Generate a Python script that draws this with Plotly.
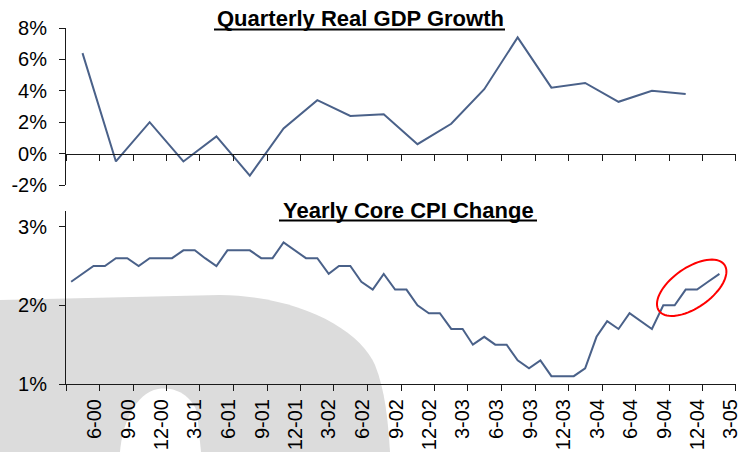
import math
import pandas as pd
import plotly.graph_objects as go

# ---------------- data ----------------
gdp_quarters = pd.date_range("2000-04-01", "2004-10-01", freq="QS-JAN")
gdp_growth = [6.4, -0.5, 2.0, -0.5, 1.1, -1.4, 1.6, 3.4, 2.4, 2.5,
              0.6, 1.9, 4.1, 7.4, 4.2, 4.5, 3.3, 4.0, 3.8]

cpi_months = pd.date_range("2000-03-01", "2005-01-01", freq="MS")
core_cpi = [2.3, 2.4, 2.5, 2.5, 2.6, 2.6, 2.5, 2.6, 2.6, 2.6,
            2.7, 2.7, 2.6, 2.5, 2.7, 2.7, 2.7, 2.6, 2.6, 2.8,
            2.7, 2.6, 2.6, 2.4, 2.5, 2.5, 2.3, 2.2, 2.4, 2.2,
            2.2, 2.0, 1.9, 1.9, 1.7, 1.7, 1.5, 1.6, 1.5, 1.5,
            1.3, 1.2, 1.3, 1.1, 1.1, 1.1, 1.2, 1.6, 1.8, 1.7,
            1.9, 1.8, 1.7, 2.0, 2.0, 2.2, 2.2, 2.3, 2.4]

tick_labels = ["6-00", "9-00", "12-00", "3-01", "6-01", "9-01", "12-01",
               "3-02", "6-02", "9-02", "12-02", "3-03", "6-03", "9-03",
               "12-03", "3-04", "6-04", "9-04", "12-04", "3-05"]

gdp_ticks = [-2, 0, 2, 4, 6, 8]
cpi_ticks = [1, 2, 3]

titles = ["Quarterly Real GDP Growth", "Yearly Core CPI Change"]

# ---------------- layout geometry ----------------
W, H = 745, 452
ML, MR, MT, MB = 66, 9, 28, 68
PW, PH = W - ML - MR, H - MT - MB
TOP_DOM = [0.559, 1.0]
BOT_DOM = [0.0, 0.486]
GDP_RANGE = [-2, 8]
CPI_RANGE = [1, 3.2]
X_RANGE = ["2000-03-01", "2005-03-01 04:00"]

def px(x, y):
    return (x - ML) / PW, (H - MB - y) / PH

tick_vals = [pd.Timestamp(2000 + int(l.split("-")[1]), int(l.split("-")[0]), 1) for l in tick_labels]
all_ticks = [pd.Timestamp("2000-03-01")] + tick_vals

line_color = "#4a6189"
axis_color = "#1a1a1a"
FONT = "Liberation Sans, Arial, sans-serif"

fig = go.Figure()
fig.add_trace(go.Scatter(x=gdp_quarters + pd.Timedelta(days=14), y=gdp_growth,
                         mode="lines", line=dict(color=line_color, width=2),
                         xaxis="x2", yaxis="y2", showlegend=False))
fig.add_trace(go.Scatter(x=cpi_months + pd.Timedelta(days=14), y=core_cpi,
                         mode="lines", line=dict(color=line_color, width=2),
                         xaxis="x", yaxis="y", showlegend=False))

zero_pos = TOP_DOM[0] + (TOP_DOM[1] - TOP_DOM[0]) * (0 - GDP_RANGE[0]) / (GDP_RANGE[1] - GDP_RANGE[0])

common_x = dict(type="date", range=X_RANGE, showgrid=False, zeroline=False,
                showline=True, linecolor=axis_color, linewidth=1, automargin=False,
                ticks="outside", ticklen=6, tickcolor=axis_color, tickwidth=1)
common_y = dict(showgrid=False, zeroline=False, showline=True, linecolor=axis_color,
                linewidth=1, ticks="outside", ticklen=6, tickcolor=axis_color,
                tickwidth=1, ticklabelstandoff=8, automargin=False,
                tickfont=dict(family=FONT, size=20, color="#000"))

fig.update_layout(
    template="none",
    width=W, height=H,
    margin=dict(l=ML, r=MR, t=MT, b=MB, autoexpand=False),
    paper_bgcolor="white", plot_bgcolor="rgba(0,0,0,0)",
    showlegend=False,
    xaxis=dict(**common_x, anchor="y", tickvals=all_ticks,
               ticktext=[""] + tick_labels, tickangle=-90,
               ticklabelshift=-5, ticklabeloverflow="allow",
               tickfont=dict(family=FONT, size=20, color="#000")),
    xaxis2=dict(**common_x, anchor="free", position=zero_pos, tickvals=all_ticks,
                showticklabels=False),
    yaxis=dict(**common_y, domain=BOT_DOM, range=CPI_RANGE, tickvals=cpi_ticks,
               ticktext=[f"{v}%" for v in cpi_ticks], anchor="x"),
    yaxis2=dict(**common_y, domain=TOP_DOM, range=GDP_RANGE, tickvals=gdp_ticks,
                ticktext=[f"{v}%" for v in gdp_ticks], anchor="x2"),
)

# titles
title_specs = [(titles[0], 360, 18.5, 214, 505, 29.5), (titles[1], 408, 210.5, 279, 537, 220.5)]
for text, cx, cy, u0, u1, uy in title_specs:
    xp, yp = px(cx, cy)
    fig.add_annotation(text="<b>" + text + "</b>", xref="paper", yref="paper",
                       x=xp, y=yp, xanchor="center", yanchor="middle", showarrow=False,
                       font=dict(family=FONT, size=22, color="#000"))
    a0 = px(u0, uy); a1 = px(u1, uy)
    fig.add_shape(type="line", xref="paper", yref="paper", x0=a0[0], y0=a0[1],
                  x1=a1[0], y1=a1[1], line=dict(color="#000", width=2))

# background watermark (gray blob + white inner blob)
def path_from(cmds):
    out = []
    for c in cmds:
        if isinstance(c, str):
            out.append(c)
        else:
            x, y = px(*c)
            out.append(f"{x:.5f},{y:.5f}")
    return " ".join(out)

gray = path_from(["M", (0, 300), "L", (220, 295), "C", (300, 296), (360, 330), (375, 365),
                  "C", (385, 390), (388, 420), (390, 452), "L", (0, 452), "Z"])
fig.add_shape(type="path", path=gray, xref="paper", yref="paper", layer="below",
              fillcolor="#dcdcdc", line=dict(width=0))
white = path_from(["M", (120, 452), "C", (122, 425), (135, 393), (158, 389),
                   "C", (178, 386), (192, 398), (197, 412), "L", (201, 452), "Z"])
fig.add_shape(type="path", path=white, xref="paper", yref="paper", layer="below",
              fillcolor="#ffffff", line=dict(width=0))

# red ellipse highlight
cxp, cyp, a, b, th = 691.7, 287.8, 40, 20, math.radians(35)
pts = []
for k in range(73):
    t = 2 * math.pi * k / 72
    dx = a * math.cos(t) * math.cos(th) - b * math.sin(t) * math.sin(th)
    dy = a * math.cos(t) * math.sin(th) + b * math.sin(t) * math.cos(th)
    pts.append((cxp + dx, cyp - dy))
ell = "M " + " L ".join(f"{px(*p)[0]:.5f},{px(*p)[1]:.5f}" for p in pts) + " Z"
fig.add_shape(type="path", path=ell, xref="paper", yref="paper",
              line=dict(color="#ff0000", width=2))

fig.write_html("out.html", config={"displayModeBar": False},
               post_script="document.body.style.margin='0px';document.body.style.overflow='hidden';")
